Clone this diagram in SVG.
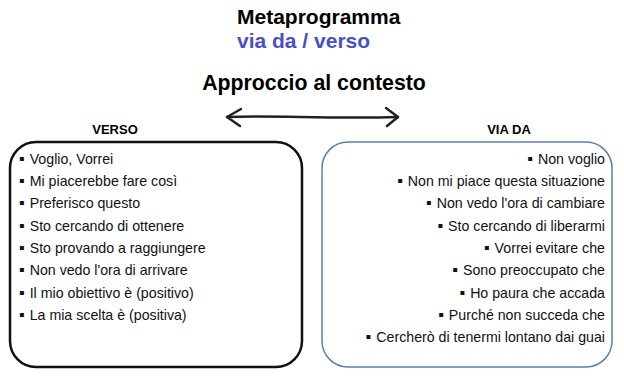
<svg xmlns="http://www.w3.org/2000/svg" width="624" height="378" viewBox="0 0 624 378">
<style>
.t{font-family:"Liberation Sans",Arial,"DejaVu Sans",sans-serif;}
.title{font-size:21px;font-weight:bold;fill:#000}
.sub{font-size:21px;font-weight:bold;fill:#4a4fc4}
.head{font-size:13px;font-weight:bold;fill:#000;text-anchor:middle}
.item{font-size:14.2px;fill:#111}
.b{font-size:16px}
.r{text-anchor:end}
.arrow{fill:none;stroke:#222;stroke-width:2.5;stroke-linecap:round;stroke-linejoin:round}
</style>
<rect width="624" height="378" fill="#fff"/>
<g id="title">
<text class="t title" x="237" y="24">Metaprogramma</text>
<text class="t sub" x="237" y="48">via da / verso</text>
<text class="t title" x="314" y="90" text-anchor="middle" style="font-size:21.3px">Approccio al contesto</text>
</g>
<g id="connectors">
<path class="arrow" d="M227 117 C270 115 330 119 398 117"/>
<path class="arrow" d="M241 109 L227 117 L240 126"/>
<path class="arrow" d="M386 108 L398 117 L387 126"/>
</g>
<g id="verso">
<text class="t head" x="115" y="134">VERSO</text>
<rect x="10" y="142" width="292" height="225" rx="26" ry="26" fill="none" stroke="#111" stroke-width="2.5"/>
<g class="t item">
<text x="19" y="164"><tspan class="b">▪</tspan><tspan dx="5">Voglio, Vorrei</tspan></text>
<text x="19" y="186"><tspan class="b">▪</tspan><tspan dx="5">Mi piacerebbe fare così</tspan></text>
<text x="19" y="208"><tspan class="b">▪</tspan><tspan dx="5">Preferisco questo</tspan></text>
<text x="19" y="231"><tspan class="b">▪</tspan><tspan dx="5">Sto cercando di ottenere</tspan></text>
<text x="19" y="253"><tspan class="b">▪</tspan><tspan dx="5">Sto provando a raggiungere</tspan></text>
<text x="19" y="275"><tspan class="b">▪</tspan><tspan dx="5">Non vedo l'ora di arrivare</tspan></text>
<text x="19" y="298"><tspan class="b">▪</tspan><tspan dx="5">Il mio obiettivo è (positivo)</tspan></text>
<text x="19" y="320"><tspan class="b">▪</tspan><tspan dx="5">La mia scelta è (positiva)</tspan></text>
</g>
</g>
<g id="via-da">
<text class="t head" x="509" y="134">VIA DA</text>
<rect x="322" y="142" width="290" height="225" rx="26" ry="26" fill="none" stroke="#5b7fae" stroke-width="1.5"/>
<g class="t item r">
<text x="605" y="164"><tspan class="b">▪</tspan><tspan dx="5">Non voglio</tspan></text>
<text x="605" y="186"><tspan class="b">▪</tspan><tspan dx="5">Non mi piace questa situazione</tspan></text>
<text x="605" y="208"><tspan class="b">▪</tspan><tspan dx="5">Non vedo l'ora di cambiare</tspan></text>
<text x="605" y="231"><tspan class="b">▪</tspan><tspan dx="5">Sto cercando di liberarmi</tspan></text>
<text x="605" y="253"><tspan class="b">▪</tspan><tspan dx="5">Vorrei evitare che</tspan></text>
<text x="605" y="275"><tspan class="b">▪</tspan><tspan dx="5">Sono preoccupato che</tspan></text>
<text x="605" y="298"><tspan class="b">▪</tspan><tspan dx="5">Ho paura che accada</tspan></text>
<text x="605" y="320"><tspan class="b">▪</tspan><tspan dx="5">Purché non succeda che</tspan></text>
<text x="605" y="342"><tspan class="b">▪</tspan><tspan dx="5">Cercherò di tenermi lontano dai guai</tspan></text>
</g>
</g>
</svg>
